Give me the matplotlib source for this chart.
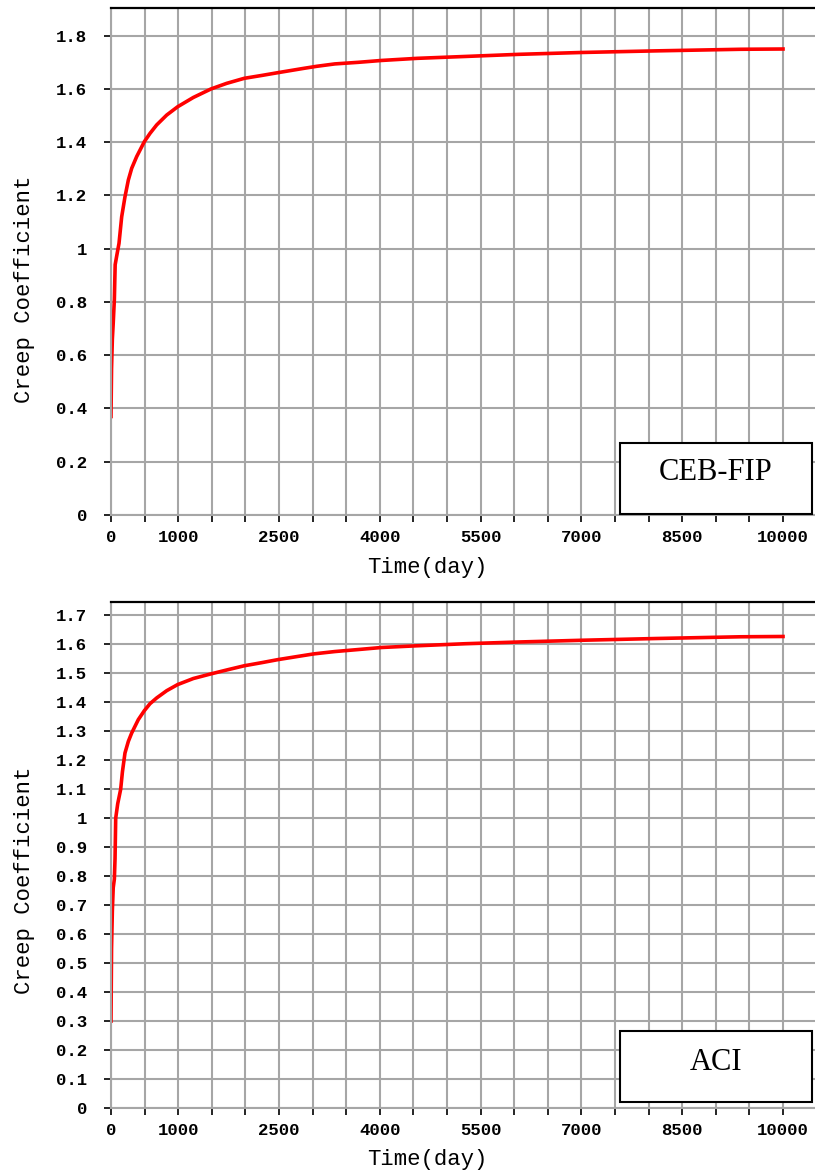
import matplotlib
matplotlib.use("Agg")
import matplotlib.pyplot as plt
from matplotlib.patches import Rectangle
from matplotlib.ticker import MultipleLocator, FuncFormatter

# Creep coefficient vs. time since loading
ceb_days = [0, 8, 20, 33, 50, 62, 90, 119, 159, 208, 258, 308, 382, 496, 580,
            680, 829, 991, 1225, 1488, 1721, 1984, 2250, 2480, 2860, 3060,
            3330, 3680, 4025, 4560, 5270, 6070, 7010, 8110, 9370, 10000]
ceb_phi = [0.37, 0.55, 0.66, 0.72, 0.81, 0.94, 0.98, 1.02, 1.12, 1.195, 1.258,
           1.302, 1.346, 1.402, 1.433, 1.465, 1.502, 1.533, 1.568, 1.600,
           1.621, 1.640, 1.651, 1.661, 1.677, 1.685, 1.694, 1.700, 1.707,
           1.715, 1.722, 1.730, 1.737, 1.743, 1.749, 1.750]

aci_days = [0, 8, 20, 33, 50, 60, 70, 100, 144, 170, 208, 258, 308, 406, 496,
            580, 680, 829, 991, 1225, 1488, 1750, 1984, 2250, 2480, 2775,
            3020, 3330, 3680, 4025, 4560, 5270, 6070, 7010, 8110, 9370, 10000]
aci_phi = [0.30, 0.55, 0.68, 0.76, 0.79, 0.86, 1.00, 1.05, 1.10, 1.16, 1.225,
           1.265, 1.294, 1.340, 1.371, 1.395, 1.415, 1.440, 1.461, 1.482,
           1.498, 1.513, 1.526, 1.537, 1.547, 1.558, 1.567, 1.575, 1.582,
           1.589, 1.595, 1.602, 1.608, 1.614, 1.620, 1.626, 1.627]

x_labels = [0, 1000, 2500, 4000, 5500, 7000, 8500, 10000]

W, H = 815, 1176
fig = plt.figure(figsize=(W / 100, H / 100), dpi=100)
fig.patch.set_facecolor("white")

mono = "Liberation Mono"
serif = "Liberation Serif"
grid_col = "#a6a6a6"


def px_rect(x0, y0, x1, y1):
    return [x0 / W, 1 - y1 / H, (x1 - x0) / W, (y1 - y0) / H]


def style_axes(ax, ymax, ystep):
    ax.set_xlim(0, 10476)
    ax.set_ylim(0, ymax)
    ax.xaxis.set_major_locator(MultipleLocator(500))
    ax.yaxis.set_major_locator(MultipleLocator(ystep))
    ax.xaxis.set_major_formatter(FuncFormatter(
        lambda v, p: f"{int(round(v))}" if int(round(v)) in x_labels else ""))
    ax.yaxis.set_major_formatter(FuncFormatter(lambda v, p: f"{round(v, 2):g}"))
    ax.grid(True, color=grid_col, linewidth=1.5)
    ax.set_axisbelow(True)
    for side in ("left", "bottom"):
        ax.spines[side].set_color(grid_col)
        ax.spines[side].set_linewidth(1.5)
    ax.spines["right"].set_visible(False)
    ax.spines["top"].set_color("black")
    ax.spines["top"].set_linewidth(1.6)
    ax.tick_params(axis="both", direction="out", length=5, width=1.2,
                   color="black", labelsize=12.5, labelcolor="black")
    ax.tick_params(axis="y", pad=12)
    ax.tick_params(axis="x", pad=6)
    for lab in ax.get_xticklabels() + ax.get_yticklabels():
        lab.set_fontfamily(mono)
        lab.set_fontweight("bold")


def add_box(x0, y0, x1, y1, text, ty):
    fig.add_artist(Rectangle((x0 / W, 1 - y1 / H), (x1 - x0) / W, (y1 - y0) / H,
                             transform=fig.transFigure, facecolor="white",
                             edgecolor="black", linewidth=1.5, zorder=5))
    fig.text((x0 + x1) / 2 / W, 1 - ty / H, text, family=serif, fontsize=22,
             ha="center", va="center", zorder=6)


ax1 = fig.add_axes(px_rect(111, 8, 815, 515))
ax1.plot(ceb_days, ceb_phi, color="#ff0000", linewidth=2.6,
         solid_joinstyle="miter")
style_axes(ax1, 1.904, 0.2)

ax2 = fig.add_axes(px_rect(111, 602, 815, 1108))
ax2.plot(aci_days, aci_phi, color="#ff0000", linewidth=2.6,
         solid_joinstyle="miter")
style_axes(ax2, 1.746, 0.1)

fig.text(25 / W, 1 - 289 / H, "Creep Coefficient", family=mono, fontsize=16,
         rotation=90, ha="center", va="center")
fig.text(25 / W, 1 - 880 / H, "Creep Coefficient", family=mono, fontsize=16,
         rotation=90, ha="center", va="center")
fig.text(427 / W, 1 - 568 / H, "Time(day)", family=mono, fontsize=16,
         ha="center", va="center")
fig.text(427 / W, 1 - 1160 / H, "Time(day)", family=mono, fontsize=16,
         ha="center", va="center")

add_box(620, 443, 812, 514, "CEB-FIP", 473)
add_box(620, 1031, 812, 1102, "ACI", 1062)

fig.savefig("out.png", dpi=100, facecolor="white")
